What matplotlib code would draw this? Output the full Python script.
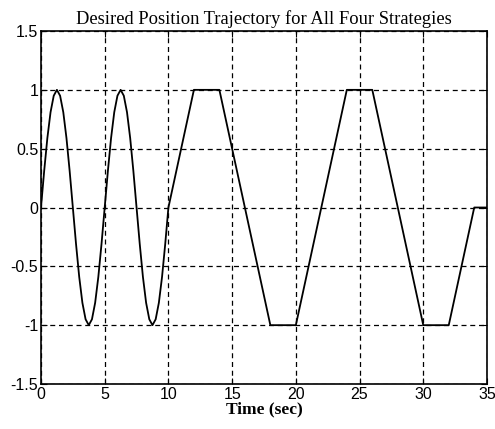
import matplotlib
matplotlib.use("Agg")
import matplotlib.pyplot as plt

# Desired position profile: two sinusoidal cycles sampled every 0.25 s (0-10 s),
# followed by trapezoidal moves between +1 and -1.
sine_time = [0.0, 0.25, 0.5, 0.75, 1.0, 1.25, 1.5, 1.75, 2.0, 2.25, 2.5,
             2.75, 3.0, 3.25, 3.5, 3.75, 4.0, 4.25, 4.5, 4.75, 5.0,
             5.25, 5.5, 5.75, 6.0, 6.25, 6.5, 6.75, 7.0, 7.25, 7.5,
             7.75, 8.0, 8.25, 8.5, 8.75, 9.0, 9.25, 9.5, 9.75]
sine_pos = [0.0, 0.31, 0.59, 0.81, 0.95, 1.0, 0.95, 0.81, 0.59, 0.31, 0.0,
            -0.31, -0.59, -0.81, -0.95, -1.0, -0.95, -0.81, -0.59, -0.31, 0.0,
            0.31, 0.59, 0.81, 0.95, 1.0, 0.95, 0.81, 0.59, 0.31, 0.0,
            -0.31, -0.59, -0.81, -0.95, -1.0, -0.95, -0.81, -0.59, -0.31]
ramp_time = [10, 12, 14, 18, 20, 24, 26, 30, 32, 34, 35]
ramp_pos = [0, 1, 1, -1, -1, 1, 1, -1, -1, 0, 0]

time = sine_time + ramp_time
position = sine_pos + ramp_pos

x_ticks = [0, 5, 10, 15, 20, 25, 30, 35]
y_ticks = [-1.5, -1, -0.5, 0, 0.5, 1, 1.5]
y_tick_labels = ["-1.5", "-1", "-0.5", "0", "0.5", "1", "1.5"]

fig = plt.figure(figsize=(4.95, 4.29), dpi=100)
ax = fig.add_axes([0.0828, 0.1049, 0.9010, 0.8228])

ax.plot(time, position, color="black", linewidth=1.3)

ax.set_xlim(0, 35)
ax.set_ylim(-1.5, 1.5)
ax.set_xticks(x_ticks)
ax.set_yticks(y_ticks)
ax.set_yticklabels(y_tick_labels)

ax.grid(True, color="black", linestyle=(0, (4, 3)), linewidth=0.9)
ax.tick_params(direction="in", top=True, right=True, length=4,
               labelsize=11.5, pad=2, colors="black")
for lbl in ax.get_xticklabels() + ax.get_yticklabels():
    lbl.set_family("Liberation Sans")
for spine in ax.spines.values():
    spine.set_linewidth(1.2)
    spine.set_color("black")

ax.set_title("Desired Position Trajectory for All Four Strategies",
             family="Liberation Serif", fontsize=13.3, pad=5)
ax.set_xlabel("Time (sec)", family="Liberation Serif", fontweight="bold",
              fontsize=12.5, labelpad=0)

fig.savefig("out.png", dpi=100)
